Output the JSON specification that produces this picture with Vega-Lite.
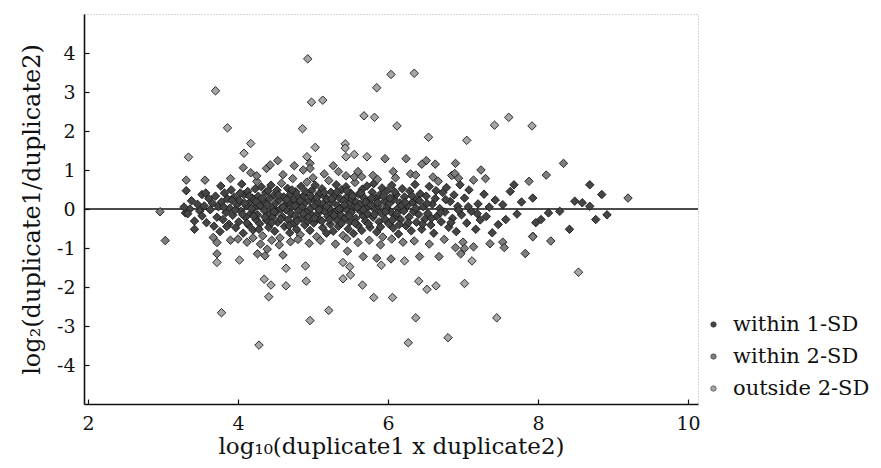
{
"$schema": "https://vega.github.io/schema/vega-lite/v6.json",
"width": 614, "height": 390,
"autosize": {"type": "none"},
"padding": {"left": 84, "top": 14, "right": 183, "bottom": 64},
"background": "white",
"config": {"view": {"stroke": "#aaaaaa", "strokeDash": [1, 2], "strokeWidth": 1}, "font": "DejaVu Serif"},
"layer": [
{"data": {"values": [{"y": 0}]}, "mark": {"type": "rule", "color": "#111111", "strokeWidth": 1.3}, "encoding": {"y": {"field": "y", "type": "quantitative"}}},
{"data": {"values": [
{"x":2.96,"y":-0.07,"g":"within 2-SD"},{"x":3.03,"y":-0.81,"g":"within 2-SD"},{"x":3.34,"y":1.33,"g":"outside 2-SD"},
{"x":3.31,"y":0.74,"g":"within 2-SD"},{"x":3.31,"y":0.47,"g":"within 1-SD"},{"x":3.56,"y":0.74,"g":"within 2-SD"},{"x":3.42,"y":-0.52,"g":"within 1-SD"},{"x":3.52,"y":0.37,"g":"within 1-SD"},{"x":3.57,"y":0.41,"g":"within 1-SD"},{"x":3.30,"y":-0.1,"g":"within 1-SD"},{"x":3.36,"y":0.0,"g":"within 1-SD"},
{"x":3.28,"y":0.05,"g":"within 1-SD"},{"x":3.33,"y":-0.12,"g":"within 1-SD"},{"x":3.38,"y":0.21,"g":"within 1-SD"},{"x":3.42,"y":-0.31,"g":"within 1-SD"},{"x":3.46,"y":0.12,"g":"within 1-SD"},{"x":3.49,"y":-0.05,"g":"within 1-SD"},
{"x":3.52,"y":-0.18,"g":"within 1-SD"},{"x":3.55,"y":0.08,"g":"within 1-SD"},{"x":3.58,"y":-0.35,"g":"within 1-SD"},{"x":3.61,"y":0.27,"g":"within 1-SD"},{"x":3.63,"y":-0.02,"g":"within 1-SD"},{"x":3.66,"y":0.15,"g":"within 1-SD"},{"x":3.68,"y":-0.44,"g":"within 1-SD"},{"x":3.70,"y":0.33,"g":"within 1-SD"},{"x":3.72,"y":-0.21,"g":"within 1-SD"},{"x":3.74,"y":0.06,"g":"within 1-SD"},
{"x":3.76,"y":-0.58,"g":"within 1-SD"},{"x":3.77,"y":0.59,"g":"within 1-SD"},{"x":3.78,"y":0.18,"g":"within 1-SD"},{"x":3.80,"y":-0.27,"g":"within 1-SD"},{"x":3.82,"y":0.41,"g":"within 1-SD"},{"x":3.84,"y":-0.09,"g":"within 1-SD"},{"x":3.86,"y":0.26,"g":"within 1-SD"},{"x":3.88,"y":-0.39,"g":"within 1-SD"},{"x":3.89,"y":0.02,"g":"within 1-SD"},{"x":3.91,"y":0.49,"g":"within 1-SD"},{"x":3.93,"y":-0.16,"g":"within 1-SD"},{"x":3.95,"y":0.31,"g":"within 1-SD"},{"x":3.97,"y":-0.48,"g":"within 1-SD"},{"x":3.99,"y":0.11,"g":"within 1-SD"},
{"x":4.01,"y":-0.33,"g":"within 1-SD"},{"x":4.02,"y":0.22,"g":"within 1-SD"},{"x":4.04,"y":-0.06,"g":"within 1-SD"},{"x":4.05,"y":0.64,"g":"within 1-SD"},{"x":4.07,"y":-0.62,"g":"within 1-SD"},{"x":4.08,"y":0.37,"g":"within 1-SD"},{"x":4.10,"y":-0.21,"g":"within 1-SD"},{"x":4.11,"y":0.08,"g":"within 1-SD"},{"x":4.13,"y":0.45,"g":"within 1-SD"},{"x":4.14,"y":-0.41,"g":"within 1-SD"},{"x":4.16,"y":0.17,"g":"within 1-SD"},{"x":4.17,"y":-0.11,"g":"within 1-SD"},{"x":4.19,"y":0.28,"g":"within 1-SD"},{"x":4.20,"y":-0.54,"g":"within 1-SD"},{"x":4.22,"y":0.03,"g":"within 1-SD"},{"x":4.23,"y":0.52,"g":"within 1-SD"},{"x":4.24,"y":-0.27,"g":"within 1-SD"},{"x":4.25,"y":0.71,"g":"within 2-SD"},
{"x":4.26,"y":-0.15,"g":"within 1-SD"},{"x":4.27,"y":0.33,"g":"within 1-SD"},{"x":4.29,"y":-0.38,"g":"within 1-SD"},{"x":4.30,"y":0.09,"g":"within 1-SD"},{"x":4.31,"y":0.57,"g":"within 1-SD"},{"x":4.33,"y":-0.69,"g":"within 2-SD"},{"x":4.34,"y":0.19,"g":"within 1-SD"},{"x":4.35,"y":-0.04,"g":"within 1-SD"},{"x":4.37,"y":0.42,"g":"within 1-SD"},{"x":4.38,"y":-0.29,"g":"within 1-SD"},{"x":4.39,"y":0.12,"g":"within 1-SD"},{"x":4.41,"y":-0.47,"g":"within 1-SD"},{"x":4.42,"y":0.26,"g":"within 1-SD"},{"x":4.43,"y":-0.13,"g":"within 1-SD"},{"x":4.44,"y":0.61,"g":"within 1-SD"},{"x":4.46,"y":-0.22,"g":"within 1-SD"},{"x":4.47,"y":0.04,"g":"within 1-SD"},{"x":4.48,"y":0.36,"g":"within 1-SD"},{"x":4.49,"y":-0.57,"g":"within 1-SD"},{"x":4.50,"y":0.15,"g":"within 1-SD"},
{"x":4.51,"y":-0.08,"g":"within 1-SD"},{"x":4.52,"y":0.48,"g":"within 1-SD"},{"x":4.53,"y":-0.34,"g":"within 1-SD"},{"x":4.55,"y":0.23,"g":"within 1-SD"},{"x":4.56,"y":-0.74,"g":"within 2-SD"},{"x":4.57,"y":0.01,"g":"within 1-SD"},{"x":4.58,"y":0.66,"g":"within 2-SD"},{"x":4.59,"y":-0.19,"g":"within 1-SD"},{"x":4.61,"y":0.31,"g":"within 1-SD"},{"x":4.62,"y":-0.45,"g":"within 1-SD"},{"x":4.63,"y":0.11,"g":"within 1-SD"},{"x":4.64,"y":-0.02,"g":"within 1-SD"},{"x":4.66,"y":0.53,"g":"within 1-SD"},{"x":4.67,"y":-0.28,"g":"within 1-SD"},{"x":4.68,"y":0.18,"g":"within 1-SD"},{"x":4.69,"y":-0.61,"g":"within 1-SD"},{"x":4.70,"y":0.38,"g":"within 1-SD"},{"x":4.71,"y":-0.12,"g":"within 1-SD"},{"x":4.72,"y":0.07,"g":"within 1-SD"},{"x":4.73,"y":0.78,"g":"within 2-SD"},{"x":4.74,"y":-0.37,"g":"within 1-SD"},{"x":4.75,"y":0.24,"g":"within 1-SD"},
{"x":4.76,"y":-0.17,"g":"within 1-SD"},{"x":4.77,"y":0.44,"g":"within 1-SD"},{"x":4.78,"y":-0.52,"g":"within 1-SD"},{"x":4.80,"y":0.13,"g":"within 1-SD"},{"x":4.81,"y":-0.03,"g":"within 1-SD"},{"x":4.82,"y":0.29,"g":"within 1-SD"},{"x":4.83,"y":-0.66,"g":"within 2-SD"},{"x":4.84,"y":0.58,"g":"within 1-SD"},{"x":4.85,"y":-0.24,"g":"within 1-SD"},{"x":4.86,"y":0.06,"g":"within 1-SD"},{"x":4.88,"y":0.35,"g":"within 1-SD"},{"x":4.89,"y":-0.41,"g":"within 1-SD"},{"x":4.90,"y":0.17,"g":"within 1-SD"},{"x":4.91,"y":-0.09,"g":"within 1-SD"},{"x":4.92,"y":0.69,"g":"within 2-SD"},{"x":4.93,"y":-0.31,"g":"within 1-SD"},{"x":4.95,"y":0.22,"g":"within 1-SD"},{"x":4.96,"y":-0.55,"g":"within 1-SD"},{"x":4.97,"y":0.02,"g":"within 1-SD"},{"x":4.98,"y":0.47,"g":"within 1-SD"},{"x":4.99,"y":-0.16,"g":"within 1-SD"},{"x":5.00,"y":0.27,"g":"within 1-SD"},
{"x":5.01,"y":-0.36,"g":"within 1-SD"},{"x":5.02,"y":0.09,"g":"within 1-SD"},{"x":5.03,"y":0.61,"g":"within 1-SD"},{"x":5.05,"y":-0.71,"g":"within 2-SD"},{"x":5.06,"y":0.19,"g":"within 1-SD"},{"x":5.07,"y":-0.11,"g":"within 1-SD"},{"x":5.08,"y":0.39,"g":"within 1-SD"},{"x":5.09,"y":-0.27,"g":"within 1-SD"},{"x":5.11,"y":0.04,"g":"within 1-SD"},{"x":5.12,"y":0.52,"g":"within 1-SD"},{"x":5.13,"y":-0.48,"g":"within 1-SD"},{"x":5.14,"y":0.14,"g":"within 1-SD"},{"x":5.15,"y":-0.05,"g":"within 1-SD"},{"x":5.16,"y":0.31,"g":"within 1-SD"},{"x":5.18,"y":-0.62,"g":"within 1-SD"},{"x":5.19,"y":0.24,"g":"within 1-SD"},{"x":5.20,"y":-0.19,"g":"within 1-SD"},{"x":5.21,"y":0.73,"g":"within 2-SD"},{"x":5.22,"y":0.01,"g":"within 1-SD"},{"x":5.23,"y":-0.39,"g":"within 1-SD"},{"x":5.24,"y":0.43,"g":"within 1-SD"},{"x":5.25,"y":-0.13,"g":"within 1-SD"},
{"x":5.26,"y":0.18,"g":"within 1-SD"},{"x":5.27,"y":-0.57,"g":"within 1-SD"},{"x":5.29,"y":0.34,"g":"within 1-SD"},{"x":5.30,"y":-0.07,"g":"within 1-SD"},{"x":5.31,"y":0.62,"g":"within 1-SD"},{"x":5.32,"y":-0.29,"g":"within 1-SD"},{"x":5.33,"y":0.08,"g":"within 1-SD"},{"x":5.34,"y":-0.44,"g":"within 1-SD"},{"x":5.36,"y":0.27,"g":"within 1-SD"},{"x":5.37,"y":-0.15,"g":"within 1-SD"},{"x":5.38,"y":0.49,"g":"within 1-SD"},{"x":5.39,"y":0.02,"g":"within 1-SD"},{"x":5.40,"y":-0.68,"g":"within 2-SD"},{"x":5.41,"y":0.21,"g":"within 1-SD"},{"x":5.43,"y":-0.23,"g":"within 1-SD"},{"x":5.44,"y":0.57,"g":"within 1-SD"},{"x":5.45,"y":-0.02,"g":"within 1-SD"},{"x":5.46,"y":0.33,"g":"within 1-SD"},{"x":5.47,"y":-0.51,"g":"within 1-SD"},{"x":5.48,"y":0.12,"g":"within 1-SD"},{"x":5.49,"y":-0.33,"g":"within 1-SD"},{"x":5.50,"y":0.41,"g":"within 1-SD"},
{"x":5.51,"y":-0.09,"g":"within 1-SD"},{"x":5.52,"y":0.26,"g":"within 1-SD"},{"x":5.54,"y":-0.63,"g":"within 1-SD"},{"x":5.55,"y":0.06,"g":"within 1-SD"},{"x":5.56,"y":0.68,"g":"within 2-SD"},{"x":5.57,"y":-0.24,"g":"within 1-SD"},{"x":5.58,"y":0.17,"g":"within 1-SD"},{"x":5.60,"y":-0.42,"g":"within 1-SD"},{"x":5.61,"y":0.38,"g":"within 1-SD"},{"x":5.62,"y":-0.04,"g":"within 1-SD"},{"x":5.63,"y":0.13,"g":"within 1-SD"},{"x":5.65,"y":-0.55,"g":"within 1-SD"},{"x":5.66,"y":0.51,"g":"within 1-SD"},{"x":5.67,"y":-0.18,"g":"within 1-SD"},{"x":5.68,"y":0.29,"g":"within 1-SD"},{"x":5.70,"y":-0.31,"g":"within 1-SD"},{"x":5.71,"y":0.03,"g":"within 1-SD"},{"x":5.72,"y":0.59,"g":"within 1-SD"},{"x":5.73,"y":-0.12,"g":"within 1-SD"},{"x":5.75,"y":0.21,"g":"within 1-SD"},
{"x":5.76,"y":-0.47,"g":"within 1-SD"},{"x":5.77,"y":0.11,"g":"within 1-SD"},{"x":5.79,"y":0.43,"g":"within 1-SD"},{"x":5.80,"y":-0.21,"g":"within 1-SD"},{"x":5.81,"y":0.65,"g":"within 1-SD"},{"x":5.83,"y":-0.02,"g":"within 1-SD"},{"x":5.84,"y":0.27,"g":"within 1-SD"},{"x":5.85,"y":-0.59,"g":"within 1-SD"},{"x":5.87,"y":0.08,"g":"within 1-SD"},{"x":5.88,"y":-0.33,"g":"within 1-SD"},{"x":5.89,"y":0.36,"g":"within 1-SD"},{"x":5.91,"y":-0.11,"g":"within 1-SD"},{"x":5.92,"y":0.54,"g":"within 1-SD"},{"x":5.93,"y":-0.72,"g":"within 2-SD"},{"x":5.95,"y":0.19,"g":"within 1-SD"},{"x":5.96,"y":-0.26,"g":"within 1-SD"},{"x":5.98,"y":0.04,"g":"within 1-SD"},{"x":5.99,"y":0.47,"g":"within 1-SD"},
{"x":6.01,"y":-0.38,"g":"within 1-SD"},{"x":6.02,"y":0.14,"g":"within 1-SD"},{"x":6.04,"y":-0.08,"g":"within 1-SD"},{"x":6.05,"y":0.61,"g":"within 1-SD"},{"x":6.07,"y":-0.49,"g":"within 1-SD"},{"x":6.08,"y":0.25,"g":"within 1-SD"},{"x":6.10,"y":-0.17,"g":"within 1-SD"},{"x":6.11,"y":0.37,"g":"within 1-SD"},{"x":6.13,"y":0.02,"g":"within 1-SD"},{"x":6.14,"y":-0.64,"g":"within 1-SD"},{"x":6.16,"y":0.16,"g":"within 1-SD"},{"x":6.17,"y":-0.27,"g":"within 1-SD"},{"x":6.19,"y":0.52,"g":"within 1-SD"},{"x":6.21,"y":-0.05,"g":"within 1-SD"},{"x":6.22,"y":0.31,"g":"within 1-SD"},{"x":6.24,"y":-0.43,"g":"within 1-SD"},
{"x":6.26,"y":0.09,"g":"within 1-SD"},{"x":6.28,"y":-0.21,"g":"within 1-SD"},{"x":6.29,"y":0.46,"g":"within 1-SD"},{"x":6.31,"y":-0.56,"g":"within 1-SD"},{"x":6.33,"y":0.18,"g":"within 1-SD"},{"x":6.34,"y":-0.07,"g":"within 1-SD"},{"x":6.36,"y":0.63,"g":"within 1-SD"},{"x":6.38,"y":-0.34,"g":"within 1-SD"},{"x":6.39,"y":0.24,"g":"within 1-SD"},{"x":6.41,"y":-0.14,"g":"within 1-SD"},{"x":6.43,"y":0.39,"g":"within 1-SD"},{"x":6.45,"y":-0.52,"g":"within 1-SD"},{"x":6.47,"y":0.06,"g":"within 1-SD"},{"x":6.49,"y":-0.26,"g":"within 1-SD"},
{"x":6.51,"y":0.33,"g":"within 1-SD"},{"x":6.53,"y":-0.11,"g":"within 1-SD"},{"x":6.55,"y":0.58,"g":"within 1-SD"},{"x":6.57,"y":-0.41,"g":"within 1-SD"},{"x":6.59,"y":0.12,"g":"within 1-SD"},{"x":6.61,"y":-0.62,"g":"within 1-SD"},{"x":6.63,"y":0.27,"g":"within 1-SD"},{"x":6.65,"y":-0.19,"g":"within 1-SD"},{"x":6.67,"y":0.71,"g":"within 2-SD"},{"x":6.69,"y":0.01,"g":"within 1-SD"},{"x":6.71,"y":-0.33,"g":"within 1-SD"},{"x":6.73,"y":0.42,"g":"within 1-SD"},
{"x":6.76,"y":-0.08,"g":"within 1-SD"},{"x":6.78,"y":0.55,"g":"within 1-SD"},{"x":6.81,"y":-0.47,"g":"within 1-SD"},{"x":6.83,"y":0.19,"g":"within 1-SD"},{"x":6.86,"y":-0.24,"g":"within 1-SD"},{"x":6.88,"y":0.36,"g":"within 1-SD"},{"x":6.91,"y":-0.58,"g":"within 1-SD"},{"x":6.93,"y":0.07,"g":"within 1-SD"},{"x":6.96,"y":0.62,"g":"within 1-SD"},{"x":6.98,"y":-0.15,"g":"within 1-SD"},
{"x":7.02,"y":0.28,"g":"within 1-SD"},{"x":7.05,"y":-0.36,"g":"within 1-SD"},{"x":7.08,"y":0.49,"g":"within 1-SD"},{"x":7.11,"y":-0.06,"g":"within 1-SD"},{"x":7.14,"y":0.74,"g":"within 2-SD"},{"x":7.17,"y":-0.52,"g":"within 1-SD"},{"x":7.20,"y":0.13,"g":"within 1-SD"},{"x":7.23,"y":-0.28,"g":"within 1-SD"},
{"x":7.28,"y":0.38,"g":"within 1-SD"},{"x":7.31,"y":-0.19,"g":"within 1-SD"},{"x":7.35,"y":0.05,"g":"within 1-SD"},{"x":7.39,"y":-0.61,"g":"within 1-SD"},{"x":7.43,"y":0.23,"g":"within 1-SD"},{"x":7.47,"y":-0.4,"g":"within 1-SD"},
{"x":7.53,"y":0.11,"g":"within 1-SD"},{"x":7.57,"y":-0.27,"g":"within 1-SD"},{"x":7.63,"y":0.45,"g":"within 1-SD"},{"x":7.68,"y":0.62,"g":"within 1-SD"},{"x":7.72,"y":-0.13,"g":"within 1-SD"},
{"x":7.78,"y":0.18,"g":"within 1-SD"},{"x":7.88,"y":0.71,"g":"within 2-SD"},{"x":7.93,"y":0.28,"g":"within 1-SD"},{"x":7.97,"y":-0.35,"g":"within 1-SD"},{"x":7.93,"y":-0.7,"g":"within 2-SD"},
{"x":8.04,"y":-0.27,"g":"within 1-SD"},{"x":8.14,"y":-0.1,"g":"within 1-SD"},{"x":8.29,"y":-0.06,"g":"within 1-SD"},{"x":8.42,"y":-0.52,"g":"within 1-SD"},
{"x":8.49,"y":0.2,"g":"within 1-SD"},{"x":8.59,"y":0.16,"g":"within 1-SD"},{"x":8.69,"y":0.07,"g":"within 1-SD"},{"x":8.69,"y":0.62,"g":"within 1-SD"},{"x":8.85,"y":0.37,"g":"within 1-SD"},{"x":8.77,"y":-0.27,"g":"within 1-SD"},{"x":8.92,"y":-0.15,"g":"within 1-SD"},{"x":9.20,"y":0.28,"g":"within 2-SD"},
{"x":3.81,"y":0.05,"g":"within 1-SD"},{"x":3.85,"y":-0.45,"g":"within 1-SD"},{"x":3.92,"y":0.22,"g":"within 1-SD"},{"x":3.96,"y":-0.03,"g":"within 1-SD"},{"x":4.03,"y":0.41,"g":"within 1-SD"},{"x":4.06,"y":-0.14,"g":"within 1-SD"},{"x":4.09,"y":0.15,"g":"within 1-SD"},{"x":4.12,"y":-0.36,"g":"within 1-SD"},{"x":4.15,"y":0.33,"g":"within 1-SD"},{"x":4.18,"y":0.01,"g":"within 1-SD"},{"x":4.21,"y":-0.18,"g":"within 1-SD"},{"x":4.24,"y":0.19,"g":"within 1-SD"},{"x":4.28,"y":-0.52,"g":"within 1-SD"},{"x":4.32,"y":0.27,"g":"within 1-SD"},{"x":4.36,"y":-0.21,"g":"within 1-SD"},{"x":4.40,"y":0.47,"g":"within 1-SD"},{"x":4.45,"y":-0.35,"g":"within 1-SD"},{"x":4.48,"y":-0.07,"g":"within 1-SD"},{"x":4.54,"y":0.36,"g":"within 1-SD"},{"x":4.57,"y":-0.26,"g":"within 1-SD"},{"x":4.60,"y":0.05,"g":"within 1-SD"},{"x":4.65,"y":0.24,"g":"within 1-SD"},{"x":4.68,"y":-0.43,"g":"within 1-SD"},{"x":4.72,"y":0.49,"g":"within 1-SD"},{"x":4.76,"y":0.08,"g":"within 1-SD"},{"x":4.79,"y":-0.31,"g":"within 1-SD"},{"x":4.83,"y":0.21,"g":"within 1-SD"},{"x":4.87,"y":-0.12,"g":"within 1-SD"},{"x":4.90,"y":0.45,"g":"within 1-SD"},{"x":4.94,"y":-0.21,"g":"within 1-SD"},{"x":4.97,"y":0.33,"g":"within 1-SD"},{"x":5.02,"y":-0.23,"g":"within 1-SD"},{"x":5.05,"y":0.29,"g":"within 1-SD"},{"x":5.08,"y":-0.02,"g":"within 1-SD"},{"x":5.12,"y":-0.31,"g":"within 1-SD"},{"x":5.15,"y":0.42,"g":"within 1-SD"},{"x":5.18,"y":0.07,"g":"within 1-SD"},{"x":5.22,"y":-0.27,"g":"within 1-SD"},{"x":5.25,"y":0.26,"g":"within 1-SD"},{"x":5.28,"y":-0.16,"g":"within 1-SD"},{"x":5.32,"y":0.44,"g":"within 1-SD"},{"x":5.35,"y":0.0,"g":"within 1-SD"},{"x":5.38,"y":-0.37,"g":"within 1-SD"},{"x":5.42,"y":0.11,"g":"within 1-SD"},{"x":5.45,"y":0.47,"g":"within 1-SD"},{"x":5.48,"y":-0.17,"g":"within 1-SD"},{"x":5.53,"y":0.33,"g":"within 1-SD"},{"x":5.56,"y":-0.36,"g":"within 1-SD"},{"x":5.59,"y":0.04,"g":"within 1-SD"},{"x":5.64,"y":0.41,"g":"within 1-SD"},{"x":5.67,"y":-0.02,"g":"within 1-SD"},{"x":5.70,"y":0.18,"g":"within 1-SD"},{"x":5.74,"y":-0.38,"g":"within 1-SD"},{"x":5.78,"y":0.28,"g":"within 1-SD"},{"x":5.82,"y":-0.14,"g":"within 1-SD"},{"x":5.86,"y":0.16,"g":"within 1-SD"},{"x":5.90,"y":-0.46,"g":"within 1-SD"},{"x":5.94,"y":0.33,"g":"within 1-SD"},{"x":5.97,"y":-0.07,"g":"within 1-SD"},{"x":6.03,"y":0.28,"g":"within 1-SD"},{"x":6.06,"y":-0.28,"g":"within 1-SD"},{"x":6.09,"y":0.44,"g":"within 1-SD"},{"x":6.12,"y":-0.11,"g":"within 1-SD"},{"x":6.15,"y":-0.4,"g":"within 1-SD"},{"x":6.18,"y":0.09,"g":"within 1-SD"},{"x":6.23,"y":0.17,"g":"within 1-SD"},{"x":6.27,"y":-0.35,"g":"within 1-SD"},{"x":6.32,"y":0.34,"g":"within 1-SD"},{"x":6.37,"y":0.02,"g":"within 1-SD"},{"x":6.42,"y":0.21,"g":"within 1-SD"},{"x":6.46,"y":-0.39,"g":"within 1-SD"},{"x":6.52,"y":0.14,"g":"within 1-SD"},{"x":6.58,"y":-0.24,"g":"within 1-SD"},{"x":6.64,"y":0.47,"g":"within 1-SD"},{"x":6.70,"y":-0.09,"g":"within 1-SD"},{"x":6.77,"y":0.24,"g":"within 1-SD"},{"x":6.84,"y":-0.35,"g":"within 1-SD"},{"x":6.94,"y":-0.03,"g":"within 1-SD"},{"x":7.07,"y":0.06,"g":"within 1-SD"},{"x":7.19,"y":-0.12,"g":"within 1-SD"},
{"x":3.67,"y":-0.73,"g":"within 2-SD"},{"x":3.72,"y":-0.86,"g":"within 2-SD"},{"x":3.90,"y":-0.8,"g":"within 2-SD"},{"x":4.00,"y":-0.77,"g":"within 2-SD"},{"x":4.12,"y":-0.85,"g":"within 2-SD"},{"x":4.20,"y":-0.74,"g":"within 2-SD"},{"x":4.30,"y":-0.9,"g":"within 2-SD"},{"x":4.45,"y":-0.8,"g":"within 2-SD"},{"x":4.55,"y":-0.92,"g":"within 2-SD"},{"x":4.70,"y":-0.84,"g":"within 2-SD"},{"x":4.80,"y":-0.78,"g":"within 2-SD"},{"x":4.95,"y":-0.88,"g":"within 2-SD"},{"x":5.10,"y":-0.81,"g":"within 2-SD"},{"x":5.30,"y":-0.9,"g":"within 2-SD"},{"x":5.45,"y":-0.76,"g":"within 2-SD"},{"x":5.60,"y":-0.86,"g":"within 2-SD"},{"x":5.75,"y":-0.8,"g":"within 2-SD"},{"x":5.90,"y":-0.92,"g":"within 2-SD"},{"x":6.05,"y":-0.77,"g":"within 2-SD"},{"x":6.20,"y":-0.85,"g":"within 2-SD"},{"x":6.35,"y":-0.82,"g":"within 2-SD"},{"x":6.55,"y":-0.9,"g":"within 2-SD"},{"x":6.75,"y":-0.78,"g":"within 2-SD"},{"x":7.00,"y":-0.85,"g":"within 2-SD"},
{"x":3.90,"y":0.78,"g":"within 2-SD"},{"x":4.25,"y":0.85,"g":"within 2-SD"},{"x":4.60,"y":0.88,"g":"within 2-SD"},{"x":5.00,"y":0.8,"g":"within 2-SD"},{"x":5.15,"y":0.9,"g":"within 2-SD"},{"x":5.55,"y":0.82,"g":"within 2-SD"},{"x":5.80,"y":0.86,"g":"within 2-SD"},{"x":6.10,"y":0.8,"g":"within 2-SD"},{"x":6.30,"y":0.9,"g":"within 2-SD"},{"x":6.60,"y":0.82,"g":"within 2-SD"},{"x":6.85,"y":0.86,"g":"within 2-SD"},{"x":7.30,"y":0.78,"g":"within 2-SD"},
{"x":4.93,"y":3.85,"g":"outside 2-SD"},{"x":3.70,"y":3.03,"g":"outside 2-SD"},{"x":6.04,"y":3.45,"g":"outside 2-SD"},{"x":6.35,"y":3.48,"g":"outside 2-SD"},{"x":5.85,"y":3.11,"g":"outside 2-SD"},{"x":4.98,"y":2.74,"g":"outside 2-SD"},{"x":5.13,"y":2.79,"g":"outside 2-SD"},{"x":3.86,"y":2.08,"g":"outside 2-SD"},{"x":4.86,"y":2.06,"g":"outside 2-SD"},{"x":5.68,"y":2.39,"g":"outside 2-SD"},{"x":5.82,"y":2.35,"g":"outside 2-SD"},{"x":6.12,"y":2.13,"g":"outside 2-SD"},{"x":7.42,"y":2.15,"g":"outside 2-SD"},{"x":7.61,"y":2.35,"g":"outside 2-SD"},{"x":7.92,"y":2.13,"g":"outside 2-SD"},{"x":6.54,"y":1.84,"g":"outside 2-SD"},{"x":7.05,"y":1.76,"g":"outside 2-SD"},{"x":4.17,"y":1.68,"g":"outside 2-SD"},{"x":4.08,"y":1.43,"g":"outside 2-SD"},{"x":5.03,"y":1.58,"g":"outside 2-SD"},{"x":5.43,"y":1.67,"g":"outside 2-SD"},{"x":5.43,"y":1.56,"g":"outside 2-SD"},{"x":5.44,"y":1.34,"g":"outside 2-SD"},{"x":5.55,"y":1.40,"g":"outside 2-SD"},{"x":5.72,"y":1.34,"g":"outside 2-SD"},{"x":5.96,"y":1.29,"g":"within 2-SD"},{"x":6.24,"y":1.29,"g":"within 2-SD"},{"x":6.51,"y":1.24,"g":"within 2-SD"},{"x":6.45,"y":1.15,"g":"within 2-SD"},{"x":6.63,"y":1.15,"g":"within 2-SD"},{"x":6.90,"y":1.17,"g":"within 2-SD"},{"x":7.24,"y":1.0,"g":"within 2-SD"},{"x":8.11,"y":0.87,"g":"within 2-SD"},{"x":8.34,"y":1.17,"g":"within 2-SD"},{"x":4.92,"y":1.34,"g":"outside 2-SD"},{"x":4.96,"y":1.17,"g":"within 2-SD"},{"x":4.96,"y":1.04,"g":"within 2-SD"},{"x":4.53,"y":1.24,"g":"within 2-SD"},{"x":4.07,"y":1.06,"g":"within 2-SD"},{"x":4.17,"y":0.93,"g":"within 2-SD"},{"x":4.38,"y":1.04,"g":"within 2-SD"},{"x":4.43,"y":1.13,"g":"within 2-SD"},{"x":4.75,"y":1.11,"g":"within 2-SD"},{"x":4.87,"y":1.0,"g":"within 2-SD"},{"x":5.27,"y":1.11,"g":"within 2-SD"},{"x":5.34,"y":0.96,"g":"within 2-SD"},{"x":5.44,"y":0.85,"g":"within 2-SD"},{"x":5.60,"y":0.96,"g":"within 2-SD"},{"x":5.65,"y":0.83,"g":"within 2-SD"},{"x":5.86,"y":0.76,"g":"within 2-SD"},{"x":6.07,"y":0.96,"g":"within 2-SD"},{"x":6.37,"y":0.87,"g":"within 2-SD"},{"x":6.89,"y":0.91,"g":"within 2-SD"},{"x":6.94,"y":0.79,"g":"within 2-SD"},
{"x":3.72,"y":-1.15,"g":"within 2-SD"},{"x":3.72,"y":-1.37,"g":"outside 2-SD"},{"x":4.02,"y":-1.31,"g":"outside 2-SD"},{"x":4.26,"y":-1.15,"g":"within 2-SD"},{"x":4.36,"y":-1.20,"g":"within 2-SD"},{"x":4.39,"y":-1.03,"g":"within 2-SD"},{"x":4.60,"y":-1.18,"g":"within 2-SD"},{"x":4.64,"y":-1.52,"g":"outside 2-SD"},{"x":4.35,"y":-1.80,"g":"outside 2-SD"},{"x":4.44,"y":-1.95,"g":"outside 2-SD"},{"x":4.41,"y":-2.25,"g":"outside 2-SD"},{"x":4.64,"y":-1.97,"g":"outside 2-SD"},{"x":4.91,"y":-1.85,"g":"outside 2-SD"},{"x":4.90,"y":-1.46,"g":"outside 2-SD"},{"x":3.78,"y":-2.66,"g":"outside 2-SD"},{"x":4.28,"y":-3.49,"g":"outside 2-SD"},{"x":4.96,"y":-2.86,"g":"outside 2-SD"},{"x":5.21,"y":-2.60,"g":"outside 2-SD"},{"x":5.40,"y":-1.37,"g":"outside 2-SD"},{"x":5.49,"y":-1.48,"g":"outside 2-SD"},{"x":5.40,"y":-1.79,"g":"outside 2-SD"},{"x":5.50,"y":-1.69,"g":"outside 2-SD"},{"x":5.46,"y":-1.08,"g":"within 2-SD"},{"x":5.66,"y":-1.95,"g":"outside 2-SD"},{"x":5.67,"y":-1.22,"g":"within 2-SD"},{"x":5.81,"y":-2.27,"g":"outside 2-SD"},{"x":5.85,"y":-1.26,"g":"within 2-SD"},{"x":5.91,"y":-1.44,"g":"outside 2-SD"},{"x":6.04,"y":-1.28,"g":"within 2-SD"},{"x":6.06,"y":-2.27,"g":"outside 2-SD"},{"x":6.22,"y":-1.33,"g":"outside 2-SD"},{"x":6.37,"y":-2.79,"g":"outside 2-SD"},{"x":6.27,"y":-3.43,"g":"outside 2-SD"},{"x":6.41,"y":-1.85,"g":"outside 2-SD"},{"x":6.42,"y":-1.22,"g":"within 2-SD"},{"x":6.52,"y":-2.06,"g":"outside 2-SD"},{"x":6.64,"y":-1.97,"g":"outside 2-SD"},{"x":6.68,"y":-1.22,"g":"within 2-SD"},{"x":6.80,"y":-3.30,"g":"outside 2-SD"},{"x":6.90,"y":-0.99,"g":"within 2-SD"},{"x":6.97,"y":-1.15,"g":"within 2-SD"},{"x":7.02,"y":-1.01,"g":"within 2-SD"},{"x":7.14,"y":-0.97,"g":"within 2-SD"},{"x":7.12,"y":-1.33,"g":"outside 2-SD"},{"x":7.02,"y":-1.91,"g":"outside 2-SD"},{"x":7.45,"y":-2.79,"g":"outside 2-SD"},{"x":7.36,"y":-0.89,"g":"within 2-SD"},{"x":7.53,"y":-0.85,"g":"within 2-SD"},{"x":7.55,"y":-0.99,"g":"within 2-SD"},{"x":7.83,"y":-1.14,"g":"within 2-SD"},{"x":7.93,"y":-0.71,"g":"within 2-SD"},{"x":8.17,"y":-0.82,"g":"within 2-SD"},{"x":8.54,"y":-1.62,"g":"outside 2-SD"}
]},
"mark": {"type": "point", "shape": "diamond", "filled": true, "size": 72, "stroke": "#1a1a1a", "strokeWidth": 0.9, "opacity": 1},
"encoding": {
"x": {"field": "x", "type": "quantitative", "scale": {"domain": [1.947, 10.133], "nice": false, "zero": false},
 "axis": {"title": "log₁₀(duplicate1 x duplicate2)", "values": [2, 4, 6, 8, 10], "grid": false, "domainColor": "#111111", "domainWidth": 1.6, "tickColor": "#111111", "tickSize": -5, "tickWidth": 1.2, "labelFont": "DejaVu Serif", "labelFontSize": 19, "labelColor": "#111111", "labelPadding": 15, "titleFont": "DejaVu Serif", "titleFontSize": 23, "titleFontWeight": "normal", "titleColor": "#111111", "titlePadding": 2}},
"y": {"field": "y", "type": "quantitative", "scale": {"domain": [-5, 5], "nice": false, "zero": false},
 "axis": {"title": "log₂(duplicate1/duplicate2)", "values": [-4, -3, -2, -1, 0, 1, 2, 3, 4], "labelExpr": "replace(datum.label, '−', '-')", "grid": false, "domainColor": "#111111", "domainWidth": 1.6, "tickColor": "#111111", "tickSize": -5, "tickWidth": 1.2, "labelFont": "DejaVu Serif", "labelFontSize": 19, "labelColor": "#111111", "labelPadding": 14, "titleFont": "DejaVu Serif", "titleFontSize": 24, "titleFontWeight": "normal", "titleColor": "#111111", "titlePadding": 12}},
"color": {"field": "g", "type": "nominal", "scale": {"domain": ["within 1-SD", "within 2-SD", "outside 2-SD"], "range": ["#454545", "#7e7e7e", "#a6a6a6"]},
 "legend": {"title": null, "orient": "none", "legendX": 619, "legendY": 300, "symbolType": "circle", "symbolSize": 30, "symbolStrokeColor": "#333333", "symbolStrokeWidth": 0.6, "labelFont": "DejaVu Serif", "labelFontSize": 21, "labelColor": "#111111", "labelOffset": 9, "rowPadding": 10, "padding": 0}}
}}
]
}
